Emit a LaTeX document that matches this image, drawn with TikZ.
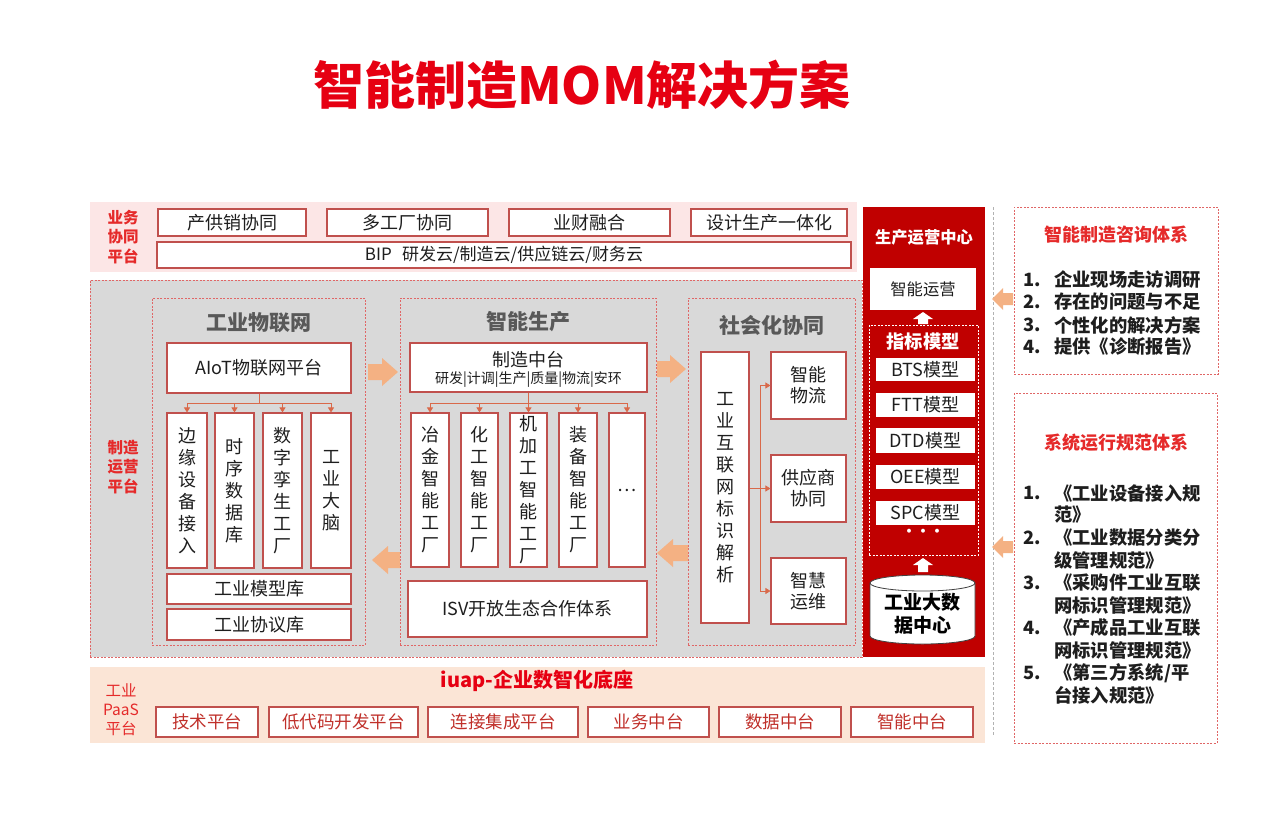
\documentclass[tikz,border=0pt]{standalone}
\usepackage{fontspec}
\setmainfont{Noto Sans CJK SC}
\usetikzlibrary{arrows.meta}
\definecolor{tred}{HTML}{E60012}
\definecolor{lred}{HTML}{E52A2A}
\definecolor{bord}{HTML}{C0504D}
\definecolor{dashc}{HTML}{E06666}
\definecolor{gfill}{HTML}{D9D9D9}
\definecolor{pinkb}{HTML}{FCE6E6}
\definecolor{peach}{HTML}{FBE5D6}
\definecolor{dred}{HTML}{C00000}
\definecolor{arrc}{HTML}{F4B183}
\definecolor{connc}{HTML}{D9694A}
\definecolor{gtxt}{HTML}{595959}
\definecolor{btxt}{HTML}{1E1E1E}
\definecolor{ptxt}{HTML}{C0302A}
\newcommand\myfs[2]{\fontsize{#1}{#2}\selectfont}
\newcommand\BX[7]{\node[#6, minimum width={(#4-#2)*1pt}, minimum height={(#5-#3)*1pt}] (#1) at ({(#2+#4)/2},{(#3+#5)/2}) {#7};}
\newcommand\RArr[3]{\fill[arrc] (#1,#3-8) -- (#2-16,#3-8) -- (#2-16,#3-14) -- (#2,#3) -- (#2-16,#3+14) -- (#2-16,#3+8) -- (#1,#3+8) -- cycle;}
\newcommand\LArr[3]{\fill[arrc] (#2,#3-8) -- (#1+16,#3-8) -- (#1+16,#3-14) -- (#1,#3) -- (#1+16,#3+14) -- (#1+16,#3+8) -- (#2,#3+8) -- cycle;}
\newcommand\LArrS[3]{\fill[arrc] (#2,#3-6) -- (#1+11,#3-6) -- (#1+11,#3-11) -- (#1,#3) -- (#1+11,#3+11) -- (#1+11,#3+6) -- (#2,#3+6) -- cycle;}
\newcommand\UArr[3]{\fill[white] (#1-5,#3) -- (#1-5,#2+7) -- (#1-10,#2+7) -- (#1,#2) -- (#1+10,#2+7) -- (#1+5,#2+7) -- (#1+5,#3) -- cycle;}
\begin{document}
\begin{tikzpicture}[x=1pt,y=-1pt,
  wbox/.style={draw=bord, line width=1.1pt, fill=white, inner sep=0pt, align=center, text=btxt, font=\myfs{18}{22}},
  pbox/.style={draw=bord, line width=1.1pt, fill=white, inner sep=0pt, align=center, text=ptxt, font=\myfs{17.5}{21}},
  region/.style={draw=dashc, dash pattern=on 2pt off 1.5pt, line width=0.8pt, fill=gfill, inner sep=0pt},
  sub/.style={draw=dashc, dash pattern=on 2pt off 1.5pt, line width=0.8pt, inner sep=0pt},
  band/.style={draw=none, inner sep=0pt},
  redcol/.style={fill=dred, draw=none, inner sep=0pt},
  plainw/.style={fill=white, draw=none, inner sep=0pt, text=btxt, font=\myfs{18}{22}},
  wdash/.style={draw=white, dash pattern=on 2pt off 1.5pt, line width=0.8pt, inner sep=0pt},
  rdash/.style={draw=dashc, dash pattern=on 2pt off 1.5pt, line width=0.8pt, fill=white, inner sep=0pt},
  lab/.style={text=lred, font=\myfs{15.5}{19.5}\bfseries, align=center, inner sep=0pt},
  ttl/.style={text=gtxt, font=\myfs{21}{24}\bfseries, inner sep=0pt},
  rttl/.style={text=lred, font=\myfs{18}{22}\bfseries, inner sep=0pt},
  item/.style={text=btxt, font=\myfs{18.3}{22}\bfseries, anchor=west, inner sep=0pt},
  cline/.style={draw=connc, line width=0.8pt},
  tip/.style={-{Triangle[length=5pt,width=6pt]}}
]
\useasboundingbox (0,0) rectangle (1280,820);

% title
\node[text=tred, font=\myfs{51}{56}\bfseries, inner sep=0pt] (title) at (582,85) {智能制造MOM解决方案};

% top band
\BX{topband}{90}{202}{857}{272}{band, fill=pinkb}{}
\node[lab] (ltop) at (123,237) {业务\\协同\\平台};
\BX{b1}{158}{209}{306}{236}{wbox}{产供销协同}
\BX{b2}{327}{209}{488}{236}{wbox}{多工厂协同}
\BX{b3}{509}{209}{670}{236}{wbox}{业财融合}
\BX{b4}{691}{209}{847}{236}{wbox}{设计生产一体化}
\BX{bip}{157}{242}{851}{268}{wbox, font=\myfs{17}{20}}{BIP\hspace{0.6em}研发云/制造云/供应链云/财务云}

% middle region
\BX{mid}{90}{280}{862}{657}{region}{}
\node[lab] (lmid) at (123,467) {制造\\运营\\平台};

% IoT
\BX{iot}{152}{298}{365}{645}{sub}{}
\node[ttl] (iott) at (258.5,323) {工业物联网};
\BX{aiot}{167}{343}{351}{393}{wbox}{AIoT物联网平台}
\BX{v1}{167}{413}{207}{568}{wbox}{边\\缘\\设\\备\\接\\入}
\BX{v2}{215}{413}{254}{568}{wbox}{时\\序\\数\\据\\库}
\BX{v3}{263}{413}{302}{568}{wbox}{数\\字\\孪\\生\\工\\厂}
\BX{v4}{311}{413}{351}{568}{wbox}{工\\业\\大\\脑}
\BX{mlib}{167}{574}{351}{604}{wbox}{工业模型库}
\BX{plib}{167}{609}{351}{640}{wbox}{工业协议库}
\coordinate (bus1) at (259,403);
\draw[cline] (aiot.south) -- (bus1);
\draw[cline] (v1.north |- bus1) -- (v4.north |- bus1);
\foreach \q in {v1,v2,v3,v4} \draw[cline,tip] (\q.north |- bus1) -- (\q.north);

% production
\BX{prod}{400}{298}{656}{645}{sub}{}
\node[ttl] (prodt) at (528,322) {智能生产};
\BX{mc}{410}{343}{647}{392}{wbox}{}
\node[text=btxt, font=\myfs{18}{22}, inner sep=0pt] (mct) at (528.5,360) {制造中台};
\node[text=btxt, font=\myfs{14}{16}, inner sep=0pt] (mcs) at (528.5,380) {研发|计调|生产|质量|物流|安环};
\BX{f1}{411}{413}{449}{567}{wbox}{冶\\金\\智\\能\\工\\厂}
\BX{f2}{461}{413}{498}{567}{wbox}{化\\工\\智\\能\\工\\厂}
\BX{f3}{510}{413}{547}{567}{wbox}{机\\加\\工\\智\\能\\工\\厂}
\BX{f4}{559}{413}{597}{567}{wbox}{装\\备\\智\\能\\工\\厂}
\BX{f5}{609}{413}{645}{567}{wbox}{…}
\BX{isv}{408}{581}{647}{637}{wbox}{ISV开放生态合作体系}
\coordinate (bus2) at (528.5,403);
\draw[cline] (mc.south) -- (bus2);
\draw[cline] (f1.north |- bus2) -- (f5.north |- bus2);
\foreach \q in {f1,f2,f3,f4,f5} \draw[cline,tip] (\q.north |- bus2) -- (\q.north);

% social
\BX{soc}{688}{298}{855}{645}{sub}{}
\node[ttl] (soct) at (771.5,325) {社会化协同};
\BX{iid}{701}{352}{749}{623}{wbox}{工\\业\\互\\联\\网\\标\\识\\解\\析}
\BX{s1}{771}{352}{846}{419}{wbox, font=\myfs{18}{21}}{智能\\物流}
\BX{s2}{771}{455}{846}{522}{wbox, font=\myfs{18}{21}}{供应商\\协同}
\BX{s3}{771}{558}{846}{624}{wbox, font=\myfs{18}{21}}{智慧\\运维}
\coordinate (sbus) at (760,488);
\draw[cline,tip] (iid.east |- s2.west) -- (s2.west);
\draw[cline] (sbus |- s1.west) -- (sbus |- s3.west);
\draw[cline,tip] (sbus |- s1.west) -- (s1.west);
\draw[cline,tip] (sbus |- s3.west) -- (s3.west);

% block arrows
\RArr{368}{398}{372}
\LArr{372}{400}{560}
\RArr{657}{686}{369}
\LArr{657}{688}{553}

% red column
\BX{poc}{863}{207}{985}{657}{redcol}{}
\node[text=white, font=\myfs{16.3}{19}\bfseries, inner sep=0pt] (poct) at (924,237) {生产运营中心};
\BX{zny}{870}{268}{976}{310}{plainw, font=\myfs{16.3}{19}}{智能运营}
\UArr{923}{312}{324}
\BX{zb}{869}{325}{978}{555}{wdash}{}
\node[text=white, font=\myfs{18.3}{22}\bfseries, inner sep=0pt] (zbt) at (923,342) {指标模型};
\BX{m1}{876}{358}{975}{381}{plainw}{BTS模型}
\BX{m2}{876}{393}{975}{417}{plainw}{FTT模型}
\BX{m3}{876}{428}{975}{453}{plainw}{DTD模型}
\BX{m4}{876}{465}{975}{489}{plainw}{OEE模型}
\BX{m5}{876}{501}{975}{525}{plainw}{SPC模型}
\node[text=white, font=\myfs{14}{16}\bfseries, inner sep=0pt] (mdots) at (923,533) {···};
\UArr{923}{558}{572}
\draw[draw=black!75, fill=white, line width=0.8pt] (870,583) -- (870,636) arc[start angle=180, end angle=0, x radius=52.5, y radius=8] -- (975,583) arc[start angle=0, end angle=-180, x radius=52.5, y radius=8] -- cycle;
\draw[draw=black!75, line width=0.8pt] (870,583) arc[start angle=180, end angle=0, x radius=52.5, y radius=8];
\node[text=black, font=\myfs{19}{23}\bfseries, align=center, inner sep=0pt] (bigdata) at (922.5,614) {工业大数\\据中心};

% separator
\coordinate (sepA) at (993,207);
\coordinate (sepB) at (993,735);
\draw[gray!60, dash pattern=on 3pt off 2pt, line width=0.7pt] (sepA) -- (sepB);

% right box 1
\BX{r1}{1014}{207}{1218}{374}{rdash}{}
\node[rttl] (r1t) at (1116,235) {智能制造咨询体系};
\node[item] (n11) at (1023,280) {1.};
\node[item] (t11) at (1054,280) {企业现场走访调研};
\node[item] (n12) at (1023,302) {2.};
\node[item] (t12) at (1054,302) {存在的问题与不足};
\node[item] (n13) at (1023,325) {3.};
\node[item] (t13) at (1054,325) {个性化的解决方案};
\node[item] (n14) at (1023,347) {4.};
\node[item] (t14) at (1054,347) {提供《诊断报告》};
\LArrS{992}{1013}{299}

% right box 2
\BX{r2}{1014}{393}{1217}{743}{rdash}{}
\node[rttl] (r2t) at (1116,443) {系统运行规范体系};
\node[item] (n21) at (1023,493) {1.};
\node[item] (t21) at (1054,493) {《工业设备接入规};
\node[item] (u21) at (1054,515) {范》};
\node[item] (n22) at (1023,538) {2.};
\node[item] (t22) at (1054,538) {《工业数据分类分};
\node[item] (u22) at (1054,560) {级管理规范》};
\node[item] (n23) at (1023,583) {3.};
\node[item] (t23) at (1054,583) {《采购件工业互联};
\node[item] (u23) at (1054,605) {网标识管理规范》};
\node[item] (n24) at (1023,628) {4.};
\node[item] (t24) at (1054,628) {《产成品工业互联};
\node[item] (u24) at (1054,650) {网标识管理规范》};
\node[item] (n25) at (1023,673) {5.};
\node[item] (t25) at (1054,673) {《第三方系统/平};
\node[item] (u25) at (1054,695) {台接入规范》};
\LArrS{992}{1013}{547}

% bottom band
\BX{botband}{90}{667}{985}{743}{band, fill=peach}{}
\node[lab, font=\myfs{15.5}{19}] (lbot) at (121,710) {工业\\PaaS\\平台};
\node[text=tred, font=\myfs{20}{24}\bfseries, inner sep=0pt] (iuap) at (537,681) {iuap-企业数智化底座};
\BX{p1}{156}{707}{258}{737}{pbox}{技术平台}
\BX{p2}{269}{707}{418}{737}{pbox}{低代码开发平台}
\BX{p3}{428}{707}{578}{737}{pbox}{连接集成平台}
\BX{p4}{588}{707}{709}{737}{pbox}{业务中台}
\BX{p5}{719}{707}{841}{737}{pbox}{数据中台}
\BX{p6}{851}{707}{973}{737}{pbox}{智能中台}
\end{tikzpicture}
\end{document}
